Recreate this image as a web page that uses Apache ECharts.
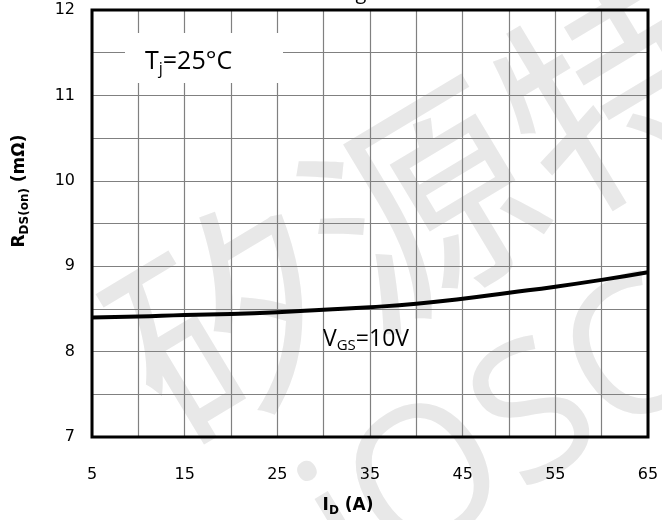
<!DOCTYPE html>
<html>
<head>
<meta charset="utf-8">
<script src="https://cdn.jsdelivr.net/npm/echarts@6/dist/echarts.min.js"></script>
<style>
  html, body { margin: 0; padding: 0; background: #fff; }
  #chart { width: 662px; height: 520px; }
</style>
</head>
<body>
<div id="chart"></div>
<script>
// Drain current (A) and on-resistance (mΩ) at VGS = 10 V, Tj = 25 °C
const drainCurrent = [5, 10, 15, 20, 25, 30, 35, 40, 45, 50, 55, 60, 65];
const rdsOn = [8.40, 8.41, 8.43, 8.44, 8.46, 8.49, 8.52, 8.56, 8.62, 8.69, 8.76, 8.84, 8.93];

// Axis ranges and labelled ticks
const xLabelTicks = [5, 15, 25, 35, 45, 55, 65];
const yLabelTicks = [7, 8, 9, 10, 11, 12];

const chart = echarts.init(document.getElementById('chart'), null, { renderer: 'canvas' });

const tickFont = { fontFamily: 'DejaVu Sans', fontSize: 16, color: '#000' };
const gridLine = { lineStyle: { color: '#808080', width: 1.2 } };
const deg = Math.PI / 180;

chart.setOption({
  animation: false,
  backgroundColor: '#fff',
  grid: {
    left: 92, right: 14, top: 10, bottom: 83,
    show: true, borderColor: '#000', borderWidth: 3, backgroundColor: 'transparent', z: 3
  },
  xAxis: {
    type: 'value', min: 5, max: 65, interval: 5,
    axisLine: { show: false }, axisTick: { show: false },
    splitLine: Object.assign({ show: true }, gridLine),
    axisLabel: Object.assign({
      margin: 30,
      formatter: v => (xLabelTicks.indexOf(v) >= 0 ? String(v) : '')
    }, tickFont)
  },
  yAxis: {
    type: 'value', min: 7, max: 12, interval: 0.5,
    axisLine: { show: false }, axisTick: { show: false },
    splitLine: Object.assign({ show: true }, gridLine),
    axisLabel: Object.assign({
      margin: 17,
      formatter: v => (yLabelTicks.indexOf(v) >= 0 ? String(v) : '')
    }, tickFont)
  },
  graphic: [
    // watermark
    {
      type: 'text', x: 422, y: 205, rotation: 31 * deg, z: 0,
      style: { text: '矽源特', x: 0, y: 0, align: 'center', verticalAlign: 'middle',
        font: '225px "Noto Sans CJK SC"', fill: '#e8e8e8' }
    },
    {
      type: 'text', x: 505, y: 440, rotation: 31 * deg, z: 0,
      style: { text: 'iOSC', x: 0, y: 0, align: 'center', verticalAlign: 'middle',
        font: '190px "Open Sans"', fill: '#e8e8e8' }
    },
    // title, mostly above the visible area
    {
      type: 'text', x: 361, y: 3, z: 20,
      style: { text: 'g', align: 'center', verticalAlign: 'bottom',
        font: '20px "Open Sans"', fill: '#000' }
    },
    // Tj label on a white box
    {
      type: 'rect', z: 10,
      shape: { x: 125, y: 33, width: 158, height: 50 },
      style: { fill: '#fff' }
    },
    {
      type: 'text', x: 145, y: 62, z: 11,
      style: {
        text: '{m|T}{s|j}{m|=25°C}',
        align: 'left', verticalAlign: 'middle',
        rich: {
          m: { fontFamily: 'Open Sans', fontSize: 25, lineHeight: 31, fill: '#000' },
          s: { fontFamily: 'Open Sans', fontSize: 16, lineHeight: 16, verticalAlign: 'bottom', fill: '#000' }
        }
      }
    },
    // VGS label
    {
      type: 'text', x: 323, y: 339, z: 11,
      style: {
        text: '{m|V}{s|GS}{m|=10V}',
        align: 'left', verticalAlign: 'middle',
        rich: {
          m: { fontFamily: 'Open Sans', fontSize: 23, lineHeight: 28, fill: '#000' },
          s: { fontFamily: 'Open Sans', fontSize: 15, lineHeight: 15, verticalAlign: 'bottom', fill: '#000' }
        }
      }
    },
    // x-axis name
    {
      type: 'text', x: 348, y: 506, z: 11,
      style: {
        text: '{m|I}{s|D}{m| (A)}',
        align: 'center', verticalAlign: 'middle',
        rich: {
          m: { fontFamily: 'DejaVu Sans', fontWeight: 'bold', fontSize: 17, lineHeight: 21, fill: '#000' },
          s: { fontFamily: 'DejaVu Sans', fontWeight: 'bold', fontSize: 12, lineHeight: 12, verticalAlign: 'bottom', fill: '#000' }
        }
      }
    },
    // y-axis name
    {
      type: 'text', x: 20, y: 191, rotation: Math.PI / 2, z: 11,
      style: {
        text: '{m|R}{s|DS(on)}{m| (mΩ)}',
        align: 'center', verticalAlign: 'middle',
        rich: {
          m: { fontFamily: 'DejaVu Sans', fontWeight: 'bold', fontSize: 17, lineHeight: 21, fill: '#000' },
          s: { fontFamily: 'DejaVu Sans', fontWeight: 'bold', fontSize: 12, lineHeight: 12, verticalAlign: 'bottom', fill: '#000' }
        }
      }
    }
  ],
  series: [{
    type: 'line',
    data: drainCurrent.map((x, i) => [x, rdsOn[i]]),
    smooth: true,
    symbol: 'none',
    lineStyle: { color: '#000', width: 4 },
    z: 5
  }]
});
</script>
</body>
</html>
